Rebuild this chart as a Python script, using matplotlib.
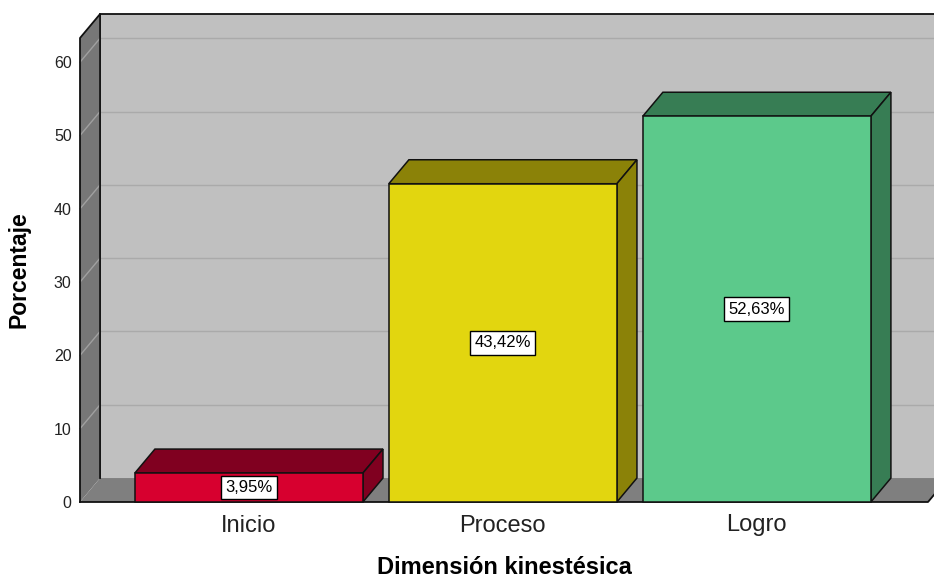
import matplotlib
matplotlib.use('Agg')
import matplotlib.pyplot as plt
from matplotlib.patches import Polygon

plt.rcParams['font.family'] = ['Liberation Sans', 'DejaVu Sans']

categories = ['Inicio', 'Proceso', 'Logro']
percentages = [3.95, 43.42, 52.63]
bar_labels = ['3,95%', '43,42%', '52,63%']
y_ticks = [0, 10, 20, 30, 40, 50, 60]

front_colors = ['#d7002f', '#e2d60f', '#5cc98b']
shade_colors = ['#800020', '#8b8208', '#377d54']

# 3d look: depth offset in data units
dx = 0.079
dy = 3.27
x0, x1 = -0.665, 2.674
wall_top = 63.3
half_w = 0.449

fig = plt.figure(figsize=(9.34, 5.83), dpi=100)
ax = fig.add_axes([80/934, 81/583, 848/934, 464/583])
ax.set_xlim(x0, x1)
ax.set_ylim(0, wall_top)
for s in ax.spines.values():
    s.set_visible(False)
ax.set_facecolor('none')

def poly(pts, fc, ec='none', lw=1.0, z=1):
    p = Polygon(pts, closed=True, facecolor=fc, edgecolor=ec, linewidth=lw,
                zorder=z, clip_on=False)
    ax.add_patch(p)

# back wall
poly([(x0 + dx, dy), (x1 + dx, dy), (x1 + dx, wall_top + dy), (x0 + dx, wall_top + dy)], '#c0c0c0', z=0.5)
# left wall
poly([(x0, 0), (x0 + dx, dy), (x0 + dx, wall_top + dy), (x0, wall_top)], '#777777', z=0.6)
# floor
poly([(x0, 0), (x1, 0), (x1 + dx, dy), (x0 + dx, dy)], '#7f7f7f', z=0.7)

# gridlines on walls
for t in y_ticks[1:]:
    ax.plot([x0 + dx, x1 + dx], [t + dy, t + dy], color='#aaaaaa', lw=1, zorder=0.65, clip_on=False)
    ax.plot([x0, x0 + dx], [t, t + dy], color='#a0a0a0', lw=1, zorder=0.65, clip_on=False)

# wall outlines
ax.plot([x0 + dx, x1 + dx], [wall_top + dy, wall_top + dy], color='#111111', lw=1.3, zorder=0.8, clip_on=False)
ax.plot([x0, x0, x0 + dx, x0 + dx], [0, wall_top, wall_top + dy, dy], color='#111111', lw=1.3, zorder=0.8, clip_on=False)
ax.plot([x0, x1, x1 + dx], [0, 0, dy], color='#111111', lw=1.3, zorder=0.8, clip_on=False)

# bars
for i, (v, fc, sc, lab) in enumerate(zip(percentages, front_colors, shade_colors, bar_labels)):
    l, r = i - half_w, i + half_w
    poly([(l, v), (r, v), (r + dx, v + dy), (l + dx, v + dy)], sc, ec='#111111', lw=1.1, z=2)
    poly([(r, 0), (r + dx, dy), (r + dx, v + dy), (r, v)], sc, ec='#111111', lw=1.1, z=2)
    poly([(l, 0), (r, 0), (r, v), (l, v)], fc, ec='#111111', lw=1.1, z=3)
    ax.text(i, v / 2, lab, ha='center', va='center', fontsize=12, color='black', zorder=4,
            bbox=dict(boxstyle='square,pad=0.25', facecolor='white', edgecolor='black', linewidth=1.0))

ax.set_xticks(range(len(categories)))
ax.set_xticklabels(categories, fontsize=17, color='#222222')
ax.set_yticks(y_ticks)
ax.set_yticklabels([str(t) for t in y_ticks], fontsize=11.5, color='#222222')
ax.tick_params(axis='both', length=0)
ax.tick_params(axis='x', pad=9)
ax.tick_params(axis='y', pad=6)

ax.set_xlabel('Dimensión kinestésica', fontsize=17, fontweight='bold', labelpad=14)
ax.set_ylabel('Porcentaje', fontsize=16.5, fontweight='bold', labelpad=17)

fig.savefig('out.png', dpi=100)
